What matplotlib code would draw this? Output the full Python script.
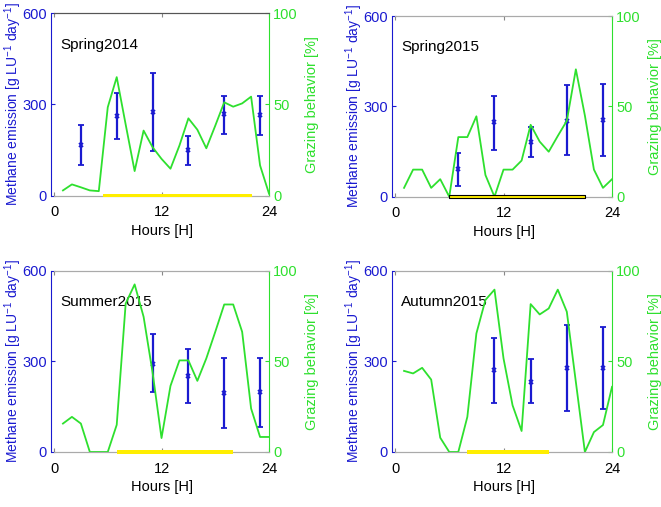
import numpy as np
import matplotlib.pyplot as plt

plt.rcParams['font.family'] = ['Liberation Sans', 'DejaVu Sans']
plt.rcParams['mathtext.fontset'] = 'custom'
plt.rcParams['mathtext.rm'] = 'Liberation Sans'
plt.rcParams['mathtext.it'] = 'Liberation Sans:italic'

# hourly grazing behaviour [%], hours 1..24
hours = np.arange(1, 25)
graze_spring14 = [2.9, 6.2, 4.6, 2.9, 2.5, 48.5, 65, 39, 13.5, 35.7, 26.6, 20.2,
                  14.8, 27.5, 42.4, 36.2, 26, 38.4, 51.2, 48.8, 50.6, 54.3, 16.6, 1.1]
graze_spring15 = [4.9, 15, 15, 4.9, 9.7, 0, 33, 33, 44.5, 12, 0, 15,
                  15, 20, 39.8, 30.5, 24.9, 33.6, 42, 70.5, 44.9, 15, 4.9, 9.7]
graze_summer15 = [15.7, 19.4, 15.7, 0, 0, 0, 15, 82, 92.6, 74.7, 44, 7.7,
                  36.5, 50.6, 50.6, 39.3, 51.7, 66.4, 81.5, 81.5, 66.4, 24, 8.3, 8.3]
graze_autumn15 = [44.8, 43.4, 46.5, 40, 7.9, 0, 0, 19.4, 65.5, 84, 89.7, 51.7,
                  25.8, 11.6, 81.7, 76, 79.3, 89.7, 77.5, 38.7, 0, 11, 14.9, 36]

# methane emission [g LU-1 day-1]: hour, mean, lower and upper whisker
ch4_hours_spring14 = [3, 7, 11, 15, 19, 23]
ch4_mean_spring14 = [167, 261, 274, 150, 268, 266]
ch4_low_spring14 = [102, 185, 148, 102, 203, 201]
ch4_high_spring14 = [234, 338, 402, 196, 329, 329]

ch4_hours_spring15 = [7, 11, 15, 19, 23]
ch4_mean_spring15 = [92, 247, 183, 252, 256]
ch4_low_spring15 = [36, 156, 133, 138, 135]
ch4_high_spring15 = [146, 334, 230, 370, 374]

ch4_hours_summer15 = [11, 15, 19, 23]
ch4_mean_summer15 = [293, 252, 197, 199]
ch4_low_summer15 = [199, 163, 81, 83]
ch4_high_summer15 = [390, 343, 312, 312]

ch4_hours_autumn15 = [11, 15, 19, 23]
ch4_mean_autumn15 = [271, 233, 280, 277]
ch4_low_autumn15 = [163, 163, 136, 141]
ch4_high_autumn15 = [379, 307, 422, 413]

# daylight / grazing period (start hour, end hour)
day_spring14 = (5.5, 22.1)
day_spring15 = (6, 21)
day_summer15 = (7, 20)
day_autumn15 = (8, 17)

titles = ['Spring2014', 'Spring2015', 'Summer2015', 'Autumn2015']

panels = [
    (graze_spring14, ch4_hours_spring14, ch4_mean_spring14, ch4_low_spring14, ch4_high_spring14, day_spring14),
    (graze_spring15, ch4_hours_spring15, ch4_mean_spring15, ch4_low_spring15, ch4_high_spring15, day_spring15),
    (graze_summer15, ch4_hours_summer15, ch4_mean_summer15, ch4_low_summer15, ch4_high_summer15, day_summer15),
    (graze_autumn15, ch4_hours_autumn15, ch4_mean_autumn15, ch4_low_autumn15, ch4_high_autumn15, day_autumn15),
]

rects = [
    [0.0817, 0.614, 0.3253, 0.3598],
    [0.5976, 0.612, 0.3283, 0.3564],
    [0.0817, 0.1085, 0.3253, 0.357],
    [0.5976, 0.1085, 0.3283, 0.357],
]
bar_edges = ['none', 'black', 'none', 'none']
top_colors = ['#555555', '#aaaaaa', '#aaaaaa', '#aaaaaa']

blue = '#1a1ad0'
green = '#2ee02e'
fs = 10.5

fig = plt.figure(figsize=(6.61, 5.07), dpi=100)

for i, (graze, ch_h, ch_m, ch_lo, ch_hi, day) in enumerate(panels):
    ax = fig.add_axes(rects[i])
    ax2 = ax.twinx()

    ch_m = np.array(ch_m)
    yerr = [ch_m - np.array(ch_lo), np.array(ch_hi) - ch_m]
    ax.errorbar(ch_h, ch_m, yerr=yerr, fmt='x', color=blue, ms=3, mew=1.3,
                elinewidth=1.6, capsize=2.4, capthick=1.2)

    ax2.plot(hours, graze, color=green, lw=1.3)
    ax2.broken_barh([(day[0], day[1] - day[0])], (-0.9, 1.8), facecolor='#ffee00',
                    edgecolor=bar_edges[i], linewidth=0.8, clip_on=False, zorder=3)

    ax.set_xlim(0, 24)
    ax.set_ylim(0, 600)
    ax2.set_ylim(0, 100)
    ax.set_xticks([0, 12, 24])
    ax.set_yticks([0, 300, 600])
    ax2.set_yticks([0, 50, 100])

    ax.text(0.028, 0.826, titles[i], transform=ax.transAxes, va='center',
            fontsize=11, color='black')

    for a in (ax, ax2):
        a.spines['top'].set_color(top_colors[i])
        a.spines['bottom'].set_color('#aaaaaa')
    ax.spines['right'].set_visible(False)
    ax2.spines['left'].set_visible(False)
    ax.spines['left'].set_color(blue)
    ax.spines['left'].set_position(('outward', 2.2))
    ax2.spines['right'].set_color(green)

    ax.tick_params(axis='x', direction='in', length=3, top=True, color='#888888',
                   labelcolor='black', labelsize=fs, pad=7)
    ax.tick_params(axis='y', direction='in', length=3, colors=blue, labelsize=fs, pad=3)
    ax2.tick_params(axis='y', direction='in', length=3, colors=green, labelsize=fs, pad=3)

    ax.set_xlabel('Hours [H]', fontsize=fs, labelpad=3)
    ax.set_ylabel('Methane emission [g LU$^{-1}$ day$^{-1}$]', color=blue,
                  fontsize=10, labelpad=-1)
    ax2.set_ylabel('Grazing behavior [%]', color=green, fontsize=fs, labelpad=5)

fig.savefig('out.png', dpi=100)
